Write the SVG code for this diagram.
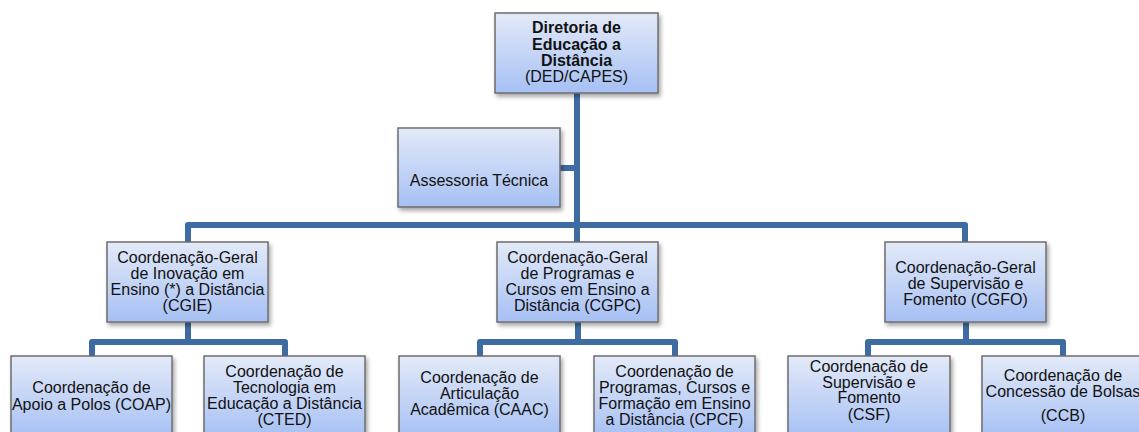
<svg xmlns="http://www.w3.org/2000/svg" width="1139" height="432" viewBox="0 0 1139 432">
<defs>
<linearGradient id="g" x1="0" y1="0" x2="0" y2="1">
<stop offset="0" stop-color="#e3eaf8"/>
<stop offset="1" stop-color="#a6c0f4"/>
</linearGradient>
<filter id="sh" x="-10%" y="-10%" width="130%" height="130%">
<feDropShadow dx="2" dy="3" stdDeviation="2" flood-color="#000" flood-opacity="0.35"/>
</filter>
</defs>
<style>
.box{fill:url(#g);stroke:#6e6e6e;stroke-width:1.5;filter:url(#sh)}
.t{font-family:"Liberation Sans",Arial,sans-serif;font-size:16px;fill:#111;text-anchor:middle}
.b{font-weight:bold}
.c{fill:none;stroke:#3f6ba3;stroke-width:6;stroke-linejoin:round;stroke-linecap:butt}
</style>
<rect width="1139" height="432" fill="#fff"/>
<g id="connectors">
<path class="c" d="M577 93 V225"/>
<path class="c" d="M560 168 H577"/>
<path class="c" d="M188 242 V225 H965 V242"/>
<path class="c" d="M577 225 V242"/>
<path class="c" d="M188 322 V342"/>
<path class="c" d="M92 356 V342 H285 V356"/>
<path class="c" d="M578 322 V342"/>
<path class="c" d="M480 356 V342 H675 V356"/>
<path class="c" d="M966 322 V342"/>
<path class="c" d="M868 356 V342 H1063 V356"/>
</g>
<g id="ded">
<rect class="box" x="495" y="13" width="163" height="80"/>
<text class="t" x="576.5"><tspan class="b" x="576.5" y="33">Diretoria de</tspan><tspan class="b" x="576.5" y="49.5">Educação a</tspan><tspan class="b" x="576.5" y="66">Distância</tspan><tspan x="576.5" y="82">(DED/CAPES)</tspan></text>
</g>
<g id="assessoria">
<rect class="box" x="398" y="128" width="162" height="79"/>
<text class="t" x="479" y="186">Assessoria Técnica</text>
</g>
<g id="cgie">
<rect class="box" x="107" y="242" width="161" height="80"/>
<text class="t"><tspan x="187.5" y="262.5">Coordenação-Geral</tspan><tspan x="187.5" y="278.8">de Inovação em</tspan><tspan x="187.5" y="295.1">Ensino (*) a Distância</tspan><tspan x="187.5" y="311.4">(CGIE)</tspan></text>
</g>
<g id="cgpc">
<rect class="box" x="497" y="242" width="161" height="80"/>
<text class="t"><tspan x="577.5" y="262.5">Coordenação-Geral</tspan><tspan x="577.5" y="278.8">de Programas e</tspan><tspan x="577.5" y="295.1">Cursos em Ensino a</tspan><tspan x="577.5" y="311.4">Distância (CGPC)</tspan></text>
</g>
<g id="cgfo">
<rect class="box" x="885" y="242" width="161" height="80"/>
<text class="t"><tspan x="965.5" y="272.5">Coordenação-Geral</tspan><tspan x="965.5" y="288.8">de Supervisão e</tspan><tspan x="965.5" y="305.1">Fomento (CGFO)</tspan></text>
</g>
<g id="coap">
<rect class="box" x="11" y="356" width="161" height="82"/>
<text class="t"><tspan x="91.5" y="393">Coordenação de</tspan><tspan x="91.5" y="409.5">Apoio a Polos (COAP)</tspan></text>
</g>
<g id="cted">
<rect class="box" x="204" y="356" width="161" height="82"/>
<text class="t"><tspan x="284.5" y="377">Coordenação de</tspan><tspan x="284.5" y="393">Tecnologia em</tspan><tspan x="284.5" y="409">Educação a Distância</tspan><tspan x="284.5" y="425">(CTED)</tspan></text>
</g>
<g id="caac">
<rect class="box" x="399" y="356" width="161" height="82"/>
<text class="t"><tspan x="479.5" y="383">Coordenação de</tspan><tspan x="479.5" y="399">Articulação</tspan><tspan x="479.5" y="415">Acadêmica (CAAC)</tspan></text>
</g>
<g id="cpcf">
<rect class="box" x="594" y="356" width="161" height="82"/>
<text class="t"><tspan x="674.5" y="377">Coordenação de</tspan><tspan x="674.5" y="393">Programas, Cursos e</tspan><tspan x="674.5" y="409">Formação em Ensino</tspan><tspan x="674.5" y="425">a Distância (CPCF)</tspan></text>
</g>
<g id="csf">
<rect class="box" x="788" y="356" width="162" height="82"/>
<text class="t"><tspan x="869" y="372">Coordenação de</tspan><tspan x="869" y="387.5">Supervisão e</tspan><tspan x="869" y="403">Fomento</tspan><tspan x="869" y="420">(CSF)</tspan></text>
</g>
<g id="ccb">
<rect class="box" x="982" y="356" width="162" height="82"/>
<text class="t"><tspan x="1063" y="381">Coordenação de</tspan><tspan x="1063" y="396.5">Concessão de Bolsas</tspan><tspan x="1063" y="421">(CCB)</tspan></text>
</g>
</svg>
